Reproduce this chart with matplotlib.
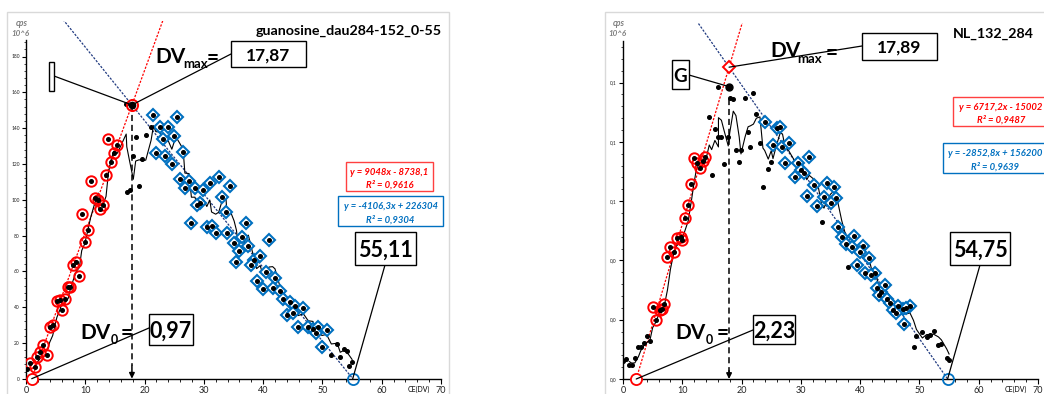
import numpy as np
import pandas as pd
import matplotlib
matplotlib.use('Agg')
import matplotlib.pyplot as plt
from matplotlib.patches import Rectangle, ConnectionPatch
from matplotlib.ticker import MultipleLocator, FuncFormatter

W, H = 1044, 394
plt.rcParams['font.family'] = ['Lato', 'DejaVu Sans']

# ---------------- data: panel 1 (guanosine), y in 10^3 cps ----------------
p1_rise_x = [0.7, 1.5, 1.9, 2.4, 2.9, 3.6, 4.0, 4.5, 5.2, 5.8, 6.0, 6.5, 7.1, 7.4, 8.0, 8.5,
             9.0, 9.4, 9.9, 10.5, 10.9, 11.6, 12.2, 12.5, 13.0, 13.5, 13.9, 14.4, 14.8, 15.4]
p1_rise_y = [8.9, 6.4, 12.3, 15.1, 18.8, 13.2, 29.1, 30.0, 43.5, 44.0, 38.4, 44.4, 51.4, 51.4, 63.5, 65.4,
             57.4, 92.0, 76.5, 83.1, 110.4, 100.8, 99.8, 94.8, 97.0, 113.8, 133.9, 121.2, 125.9, 130.6]
p1_fall_x = [21.5, 25.5, 22.6, 24.0, 23.05, 24.96, 21.9, 23.4, 24.6, 26.5, 26.0, 27.5, 26.8, 28.5,
             29.9, 31.0, 32.5, 34.4, 33.0, 29.3, 28.9, 33.7, 27.9, 30.5, 31.3, 32.0, 33.9, 37.1,
             41.0, 35.1, 36.5, 37.5, 35.9, 35.5, 38.4, 39.5, 37.9, 40.5, 42.0, 38.9, 40.0, 41.6,
             42.8, 43.3, 44.5, 45.4, 46.8, 44.0, 45.1, 45.9, 47.6, 48.4, 49.3, 50.7, 49.9, 48.9]
p1_fall_y = [147.3, 146.4, 140.4, 140.4, 133.7, 135.6, 125.9, 124.4, 119.8, 126.8, 111.4, 110.6, 106.4, 106.4,
             105.4, 109.2, 112.5, 107.7, 101.7, 98.3, 97.0, 93.3, 87.2, 84.9, 85.3, 81.2, 81.2, 87.2,
             77.5, 75.6, 79.3, 74.1, 71.5, 65.4, 66.3, 68.5, 63.5, 59.8, 56.1, 54.7, 49.9, 50.5,
             49.2, 44.4, 43.0, 40.6, 39.3, 35.6, 36.5, 28.7, 29.1, 27.6, 29.1, 27.2, 17.9, 25.4]
p1_other_x = [0.1, 16.9, 17.0, 17.5, 18.1, 18.5, 19.1, 19.6, 20.2, 21.1,
              51.5, 52.5, 53.0, 53.7, 54.1, 54.5, 55.0]
p1_other_y = [5.2, 153.5, 104.5, 105.4, 124.4, 135.0, 107.5, 122.8, 136.0, 140.8,
              13.1, 19.2, 12.0, 16.6, 15.5, 7.3, 9.5]
p1_fit_rise = [9.048, -8.7381]      # slope, intercept (10^3 cps)
p1_fit_fall = [-4.1063, 226.304]
p1_title = "guanosine_dau284-152_0-55"
p1_eq_rise = ["y = 9048x - 8738,1", "R² = 0,9616"]
p1_eq_fall = ["y = -4106,3x + 226304", "R² = 0,9304"]
p1_labels = ["17,87", "0,97", "55,11"]

# ---------------- data: panel 2 (NL_132_284), y in 10^3 cps ----------------
p2_rise_x = [5.0, 5.5, 6.2, 6.5, 6.9, 7.5, 8.0, 8.6, 9.1, 9.7, 10.0, 10.4, 11.0, 11.5,
             12.0, 12.4, 13.0, 13.5, 13.9]
p2_rise_y = [24.4, 19.9, 23.4, 23.6, 25.2, 41.3, 44.6, 42.8, 47.7, 48.0, 47.0, 54.2, 58.8, 65.8,
             74.4, 72.7, 71.3, 73.5, 75.0]
p2_fall_x = [23.9, 25.9, 26.5, 25.3, 26.9, 28.0, 27.3, 29.6, 31.4, 29.0, 30.1, 30.5, 31.0, 32.2,
             32.8, 33.9, 34.4, 35.6, 36.0, 35.0, 36.3, 36.9, 37.6, 38.95, 38.6, 40.4, 40.0, 41.5,
             39.4, 40.8, 42.5, 41.9, 42.8, 43.6, 44.2, 43.2, 44.5, 45.0, 46.4, 45.6, 47.2, 48.4,
             47.8, 46.0, 47.4]
p2_fall_y = [86.8, 84.6, 85.1, 78.9, 78.3, 79.5, 72.7, 72.9, 75.0, 68.0, 70.5, 69.4, 61.7, 65.4,
             58.3, 61.5, 66.2, 64.9, 60.9, 59.3, 51.2, 48.0, 45.5, 48.2, 44.4, 44.9, 42.9, 40.7,
             38.4, 35.9, 35.9, 35.1, 30.6, 29.4, 31.7, 28.3, 26.9, 25.7, 24.6, 23.3, 23.5, 24.6,
             23.8, 22.4, 18.5]
p2_other_x = [0.05, 0.5, 1.07, 1.46, 2.0, 2.6, 3.0, 3.5, 4.1, 4.55, 14.55, 14.95, 15.5, 16.1,
              16.1, 16.6, 17.0, 17.75, 18.0, 18.6, 19.05, 19.6, 19.9, 20.6, 21.1, 21.5, 22.0,
              22.5, 23.1, 23.6, 24.5, 25.0, 33.5, 38.0, 49.0, 49.5, 50.5, 51.2, 51.8, 52.4,
              53.2, 53.7, 54.6, 55.0]
p2_other_y = [6.1, 6.9, 4.6, 4.6, 7.1, 10.9, 10.7, 12.0, 14.6, 12.9, 88.3, 68.8, 84.3, 81.7,
              98.4, 81.7, 72.4, 81.7, 94.9, 94.4, 77.2, 73.3, 77.2, 94.7, 83.3, 78.2, 96.4,
              89.3, 79.5, 64.9, 70.8, 73.3, 53.1, 37.7, 10.9, 14.6, 16.0, 14.3, 14.8, 16.2,
              11.6, 11.8, 7.0, 6.5]
p2_g_point = [17.9, 98.6]
p2_fit_rise = [6.7172, -15.002]
p2_fit_fall = [-2.8528, 156.200]
p2_title = "NL_132_284"
p2_eq_rise = ["y = 6717,2x - 15002", "R² = 0,9487"]
p2_eq_fall = ["y = -2852,8x + 156200", "R² = 0,9639"]
p2_labels = ["17,89", "2,23", "54,75"]

RED = '#FF0000'
BLUE = '#0070C0'
NAVY = '#203A80'

fig = plt.figure(figsize=(W / 100, H / 100), dpi=100)


def F(x, y):
    return (x / W, 1 - y / H)


def axes_px(x0, x1, ytop, ybot):
    return fig.add_axes([x0 / W, 1 - ybot / H, (x1 - x0) / W, (ybot - ytop) / H])


def frame(x0, y0, x1, y1, ec='k', lw=1.0, fc='white', z=5):
    r = Rectangle(F(x0, y1), (x1 - x0) / W, (y1 - y0) / H, transform=fig.transFigure,
                  fc=fc, ec=ec, lw=lw, zorder=z)
    fig.add_artist(r)


def boxtext(x0, y0, x1, y1, txt, size, z=6):
    frame(x0, y0, x1, y1, z=z)
    fig.text((x0 + x1) / 2 / W, 1 - (y0 + y1) / 2 / H, txt, ha='center', va='center_baseline',
             fontsize=size, fontweight='bold', zorder=z + 1)


def ftext(x, y, txt, size, **kw):
    kw.setdefault('fontweight', 'bold')
    fig.text(x / W, 1 - y / H, txt, fontsize=size, va='center_baseline', **kw)


def connect(ax, px, py, dx, dy):
    con = ConnectionPatch(xyA=F(px, py), coordsA='figure fraction', xyB=(dx, dy), coordsB='data',
                          axesB=ax, color='k', lw=0.9, zorder=4)
    fig.add_artist(con)


def mavg(xs, ys, n=3):
    xs = np.asarray(xs)
    ys = np.asarray(ys)
    o = np.argsort(xs)
    m = pd.Series(ys[o]).rolling(n).mean().values
    return xs[o][n - 1:], m[n - 1:]


def panel(ax, rx, ry, fx, fy, ox, oy, fit_r, fit_f, ymax, spine_top, major, minor, fmt):
    ax.set_xlim(0, 70)
    ax.set_ylim(0, ymax)
    ax.patch.set_visible(False)
    for s in ['top', 'right']:
        ax.spines[s].set_visible(False)
    for s in ['left', 'bottom']:
        ax.spines[s].set_linewidth(1.0)
        ax.spines[s].set_color('k')
    ax.spines['left'].set_bounds(0, spine_top)
    ax.xaxis.set_major_locator(MultipleLocator(10))
    ax.xaxis.set_minor_locator(MultipleLocator(2))
    ax.set_yticks(np.arange(0, spine_top, major))
    ax.yaxis.set_major_formatter(FuncFormatter(fmt))
    ax.set_yticks([v for v in np.arange(0, spine_top, minor)], minor=True)
    ax.tick_params(axis='x', which='major', length=3.5, width=0.8, labelsize=6.5, pad=1.5,
                   labelcolor='#222222')
    ax.tick_params(axis='x', which='minor', length=2, width=0.6)
    ax.tick_params(axis='y', which='major', length=3, width=0.8, labelsize=3.5, pad=1.5,
                   labelcolor='#222222')
    ax.tick_params(axis='y', which='minor', length=1.6, width=0.5)

    # fit lines
    a1, b1 = fit_r
    a2, b2 = fit_f
    x0 = -b1 / a1
    xe = -b2 / a2
    xr = np.linspace(x0, 40, 50)
    ax.plot(xr, a1 * xr + b1, color=RED, lw=0.9, ls=(0, (1.8, 1.2)), zorder=2)
    xf = np.linspace(0, xe, 50)
    ax.plot(xf, a2 * xf + b2, color=NAVY, lw=0.9, ls=(0, (1.8, 1.2)), zorder=2)

    # moving average of all points
    allx = list(rx) + list(fx) + list(ox)
    ally = list(ry) + list(fy) + list(oy)
    mx, my = mavg(allx, ally, 3)
    ax.plot(mx, my, color='k', lw=0.8, zorder=3)

    # markers
    ax.plot(rx, ry, ls='none', marker='o', ms=7.5, mfc='none', mec=RED, mew=1.4, zorder=4)
    ax.plot(fx, fy, ls='none', marker='D', ms=6.3, mfc='white', mec=BLUE, mew=1.5, zorder=4)
    ax.plot(allx, ally, ls='none', marker='o', ms=2.6, color='k', zorder=5)

    # zero crossings
    ax.plot([x0], [0], ls='none', marker='o', ms=8, mfc='white', mec=RED, mew=1.3, zorder=6,
            clip_on=False)
    ax.plot([xe], [0], ls='none', marker='o', ms=8, mfc='none', mec=BLUE, mew=1.3, zorder=6,
            clip_on=False)

    xp = (b2 - b1) / (a1 - a2)
    yp = a1 * xp + b1
    return x0, xe, xp, yp


# ---------------- panel 1 ----------------
frame(7, 12, 449, 420, ec='#D9D9D9', lw=1.0, fc='none', z=0)
ax1 = axes_px(26, 441, 20.7, 378.7)
x0, xe, xp, yp = panel(ax1, p1_rise_x, p1_rise_y, p1_fall_x, p1_fall_y, p1_other_x, p1_other_y,
                       p1_fit_rise, p1_fit_fall, 200, 189, 20, 4, lambda v, p: f"{v:.0f}")
ax1.plot([xp], [yp], ls='none', marker='o', ms=8, mfc='none', mec=RED, mew=1.4, zorder=6)
ax1.plot([xp], [yp], ls='none', marker='o', ms=4.5, color='k', zorder=7)
ax1.plot([xp, xp], [yp, 7], color='k', lw=1.1, ls=(0, (4, 2.5)), zorder=3)
ax1.annotate('', xy=(xp, 0), xytext=(xp, 7),
             arrowprops=dict(arrowstyle='-|>', color='k', lw=1.1, mutation_scale=8,
                             shrinkA=0, shrinkB=0), zorder=6)

ftext(21.5, 22, "cps", 6.2, color='#7F7F7F', style='italic', ha='center')
ftext(20.5, 33, "10^6", 5.8, color='#7F7F7F', style='italic', ha='center')
ftext(419, 389, "CE(DV)", 5, ha='center', fontweight='normal')
ftext(442, 30, p1_title, 10.3, ha='right')

connect(ax1, 54, 76, xp, yp)
frame(49, 62, 54, 91, z=6)
connect(ax1, 231, 54, xp, yp)
ftext(155, 55, "DV", 15, ha='left')
ftext(183, 63, "max", 9.5, ha='left')
ftext(207, 56, "=", 15, ha='left')
boxtext(231, 41, 306, 67, p1_labels[0], 12.5)

# equations
frame(346, 162, 433, 191, ec='#FF4040', lw=1.0)
ftext(389.5, 171.5, p1_eq_rise[0], 6.8, color=RED, style='italic', ha='center', zorder=7)
ftext(389.5, 184, p1_eq_rise[1], 6.8, color=RED, style='italic', ha='center', zorder=7)
frame(338, 196, 443, 226, ec=BLUE, lw=1.0)
ftext(390.5, 205.5, p1_eq_fall[0], 6.8, color=BLUE, style='italic', ha='center', zorder=7)
ftext(390.5, 218.5, p1_eq_fall[1], 6.8, color=BLUE, style='italic', ha='center', zorder=7)

connect(ax1, 385, 265, xe, 0)
boxtext(355, 232, 416, 265, p1_labels[2], 15.5)

connect(ax1, 149, 328, x0, 0)
ftext(80, 331, "DV", 15, ha='left')
ftext(111, 339, "0", 9, ha='left')
ftext(121, 331, "=", 15, ha='left')
boxtext(149, 314, 193, 345, p1_labels[1], 15.5)

# ---------------- panel 2 ----------------
frame(605, 12, 1060, 420, ec='#D9D9D9', lw=1.0, fc='none', z=0)
ax2 = axes_px(623, 1038, 23.2, 379)
x0, xe, xp, yp = panel(ax2, p2_rise_x, p2_rise_y, p2_fall_x, p2_fall_y, p2_other_x, p2_other_y,
                       p2_fit_rise, p2_fit_fall, 120, 114, 20, 4,
                       lambda v, p: f"{v / 1000:.1f}".replace('.', ','))
ax2.plot([xp], [yp], ls='none', marker='D', ms=6.3, mfc='white', mec=RED, mew=1.4, zorder=6)
ax2.plot([p2_g_point[0]], [p2_g_point[1]], ls='none', marker='o', ms=5, color='k', zorder=7)
ax2.plot([xp, xp], [p2_g_point[1] - 4, 2.5], color='k', lw=1.1, ls=(0, (4, 2.5)), zorder=3)
ax2.annotate('', xy=(xp, 0), xytext=(xp, 2.8),
             arrowprops=dict(arrowstyle='-|>', color='k', lw=1.1, mutation_scale=8,
                             shrinkA=0, shrinkB=0), zorder=6)

ftext(618.5, 22, "cps", 6.2, color='#7F7F7F', style='italic', ha='center')
ftext(617.5, 33, "10^6", 5.8, color='#7F7F7F', style='italic', ha='center')
ftext(1016, 389, "CE(DV)", 5, ha='center', fontweight='normal')
ftext(953, 33, p2_title, 10.3, ha='left')

connect(ax2, 689, 75, p2_g_point[0], p2_g_point[1])
boxtext(672, 60, 689, 89, "G", 13.5)
connect(ax2, 862, 46, xp, yp)
ftext(770, 49, "DV", 15, ha='left')
ftext(797, 58, "max", 9.5, ha='left')
ftext(826, 51, "=", 15, ha='left')
boxtext(862, 33, 937, 60, p2_labels[0], 12.5)

frame(953, 97, 1049, 126, ec='#FF4040', lw=1.0)
ftext(1001, 106.5, p2_eq_rise[0], 6.8, color=RED, style='italic', ha='center', zorder=7)
ftext(1001, 119, p2_eq_rise[1], 6.8, color=RED, style='italic', ha='center', zorder=7)
frame(943, 143, 1047, 173, ec=BLUE, lw=1.0)
ftext(995, 152.5, p2_eq_fall[0], 6.8, color=BLUE, style='italic', ha='center', zorder=7)
ftext(995, 165.5, p2_eq_fall[1], 6.8, color=BLUE, style='italic', ha='center', zorder=7)

connect(ax2, 980, 265, xe, 0)
boxtext(950, 232, 1010, 265, p2_labels[2], 15.5)

connect(ax2, 753, 330, x0, 0)
ftext(675, 331, "DV", 15, ha='left')
ftext(706, 339, "0", 9, ha='left')
ftext(717, 331, "=", 15, ha='left')
boxtext(753, 315, 795, 344, p2_labels[1], 15.5)

fig.savefig('out.png', dpi=100, facecolor='white')
